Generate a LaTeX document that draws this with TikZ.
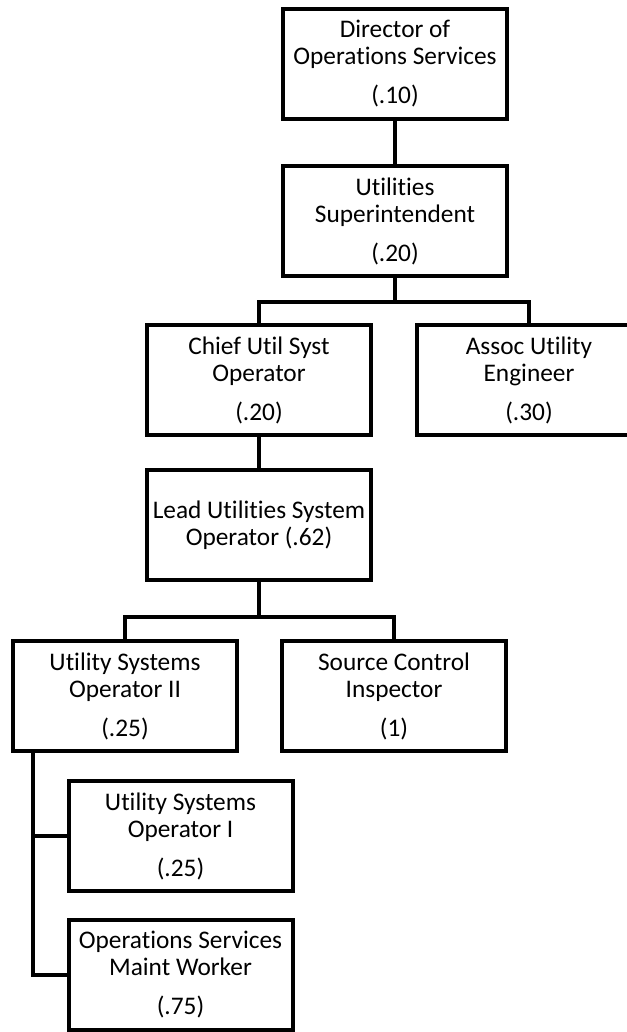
\documentclass[tikz,border=0pt]{standalone}
\usepackage{fontspec}
\setmainfont{Carlito}[Ligatures=NoCommon]
\begin{document}
\begin{tikzpicture}[x=0.75pt,y=-0.75pt,
  post/.style={draw, line width=3pt, minimum width=168pt, minimum height=82.5pt,
    inner sep=0pt, align=center, font=\fontsize{19}{20.25}\selectfont},
  link/.style={line width=3.2pt}]
\useasboundingbox (0,0) rectangle (627,1032);
\clip (0,0) rectangle (627,1032);

% positions
\node[post] (dir)   at (395,64)  {Director of\\Operations Services\\[9pt](.10)};
\node[post] (sup)   at (395,221) {Utilities\\Superintendent\\[9pt](.20)};
\node[post] (chief) at (259,380) {Chief Util Syst\\Operator\\[9pt](.20)};
\node[post] (assoc) at (529,380) {Assoc Utility\\Engineer\\[9pt](.30)};
\node[post] (lead)  at (259,525) {Lead Utilities System\\Operator (.62)};
\node[post] (op2)   at (125,696) {Utility Systems\\Operator II\\[9pt](.25)};
\node[post] (src)   at (394,696) {Source Control\\Inspector\\[9pt](1)};
\node[post] (op1)   at (180.5,836) {Utility Systems\\Operator I\\[9pt](.25)};
\node[post] (maint) at (180.5,975) {Operations Services\\Maint Worker\\[9pt](.75)};

% junction points
\coordinate (j1) at (395,302);
\coordinate (j2) at (259,617);
\coordinate (spine) at ([xshift=16.5pt]op2.south west);

% connectors
\draw[link] (dir.south) -- (sup.north);
\draw[link] (sup.south) -- (j1);
\draw[link] (chief.north) |- (j1) -| (assoc.north);
\draw[link] (chief.south) -- (lead.north);
\draw[link] (lead.south) -- (j2);
\draw[link] (op2.north) |- (j2) -| (src.north);
\draw[link] (spine) |- (op1.west);
\draw[link] (spine) |- (maint.west);
\end{tikzpicture}
\end{document}
